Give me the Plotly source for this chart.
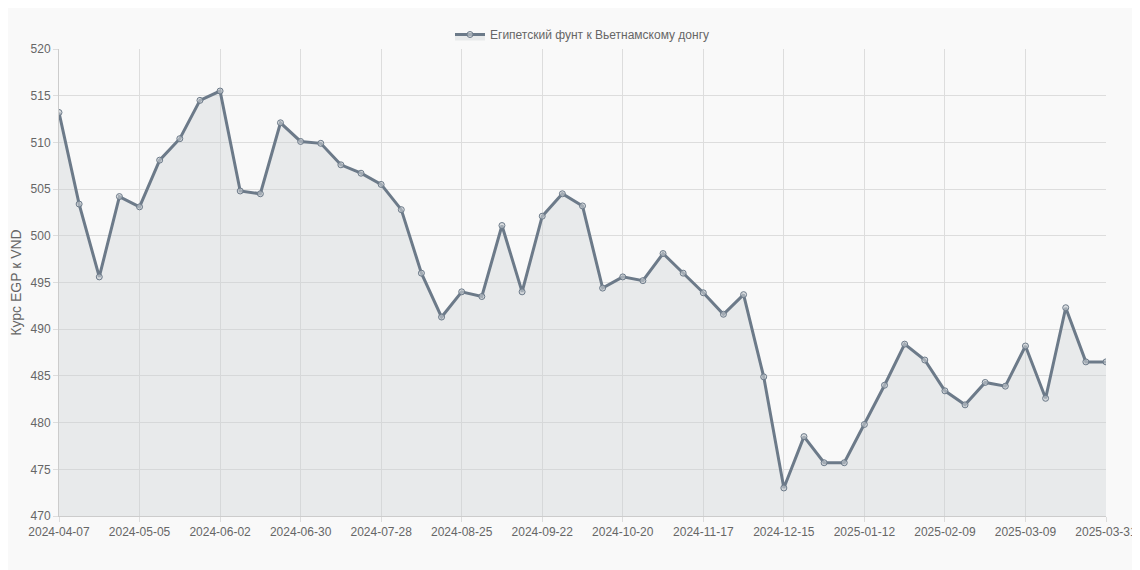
import plotly.graph_objects as go
import datetime as dt

start = dt.date(2024, 4, 7)
dates = [(start + dt.timedelta(weeks=i)).isoformat() for i in range(52)] + ["2025-03-31"]
values = [513.2, 503.4, 495.6, 504.2, 503.1, 508.1, 510.4, 514.5, 515.5, 504.8,
          504.5, 512.1, 510.1, 509.9, 507.6, 506.7, 505.5, 502.8, 496.0, 491.3,
          494.0, 493.5, 501.1, 494.0, 502.1, 504.5, 503.2, 494.4, 495.6, 495.2,
          498.1, 496.0, 493.9, 491.6, 493.7, 484.9, 473.0, 478.5, 475.7, 475.7,
          479.8, 484.0, 488.4, 486.7, 483.4, 481.9, 484.3, 483.9, 488.2, 482.6,
          492.3, 486.5, 486.5]
tick_labels = dates[::4] + [dates[-1]]

fig = go.Figure(go.Scatter(
    x=dates, y=values, mode="lines+markers", fill="tozeroy",
    name="Египетский фунт к Вьетнамскому донгу",
    line=dict(color="#6c7a89", width=3),
    fillcolor="rgba(200,205,210,0.35)",
    marker=dict(size=6, color="rgba(200,205,210,0.6)", line=dict(color="#6c7a89", width=1)),
))
fig.update_layout(
    width=1140, height=570,
    margin=dict(l=51, r=42, t=23, b=62),
    paper_bgcolor="#f9f9f9", plot_bgcolor="#f9f9f9",
    font=dict(family="Liberation Sans, Arial", size=12, color="#666"),
    showlegend=True,
    legend=dict(orientation="h", x=0.5, xanchor="center", y=1.0, yanchor="bottom",
                font=dict(size=12, color="#666"), borderwidth=0),
    xaxis=dict(type="category", tickmode="array", tickvals=tick_labels, ticktext=tick_labels,
               showgrid=True, gridcolor="#ddd", linecolor="#ccc", ticks="outside", tickcolor="#ddd",
               range=[0, len(dates) - 1], tickangle=0, automargin=False),
    yaxis=dict(range=[470, 520], dtick=5, showgrid=True, gridcolor="#ddd", linecolor="#ccc",
               ticks="outside", tickcolor="#ddd", automargin=False,
               title=dict(text="Курс EGP к VND", font=dict(size=14), standoff=8)),
)
fig.write_html("out.html")
